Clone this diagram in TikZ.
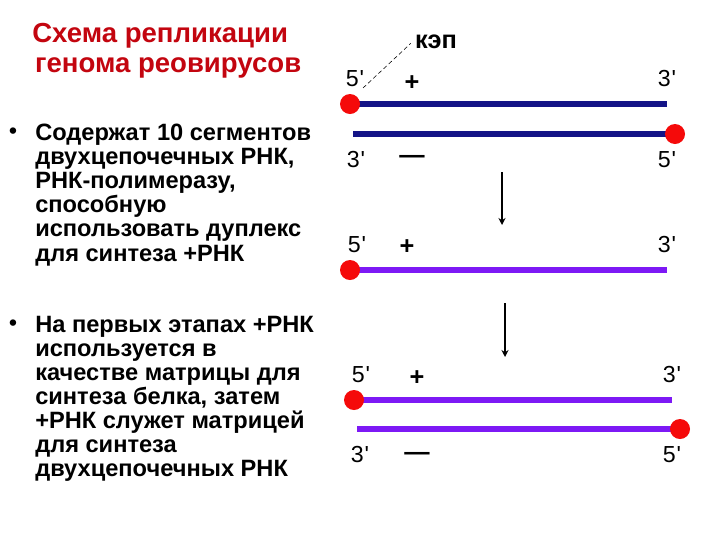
\documentclass[tikz,border=0pt]{standalone}
\usepackage{fontspec}
\setmainfont{Liberation Sans}
\usetikzlibrary{arrows.meta}
\definecolor{titlered}{RGB}{195,5,15}
\definecolor{navy}{RGB}{20,20,135}
\definecolor{violet}{RGB}{125,25,245}
\definecolor{capred}{RGB}{245,10,10}
\newcommand{\pr}{\kern0.5pt\textquotesingle}
\tikzset{
  capdot/.style={circle,fill=capred,inner sep=0pt,minimum size=0.5cm},
  prime/.style={inner sep=0pt,font=\fontsize{16.5}{16.5}\selectfont},
  sign/.style={inner sep=0pt,font=\bfseries\fontsize{18}{18}\selectfont},
  dsrna/.style={draw=navy,line width=4.4pt},
  ssrna/.style={draw=violet,line width=4.8pt},
  stepline/.style={draw,line width=1.1pt,-{Stealth[length=5pt,width=5pt]}},
  bodytext/.style={inner sep=0pt,anchor=north west,align=left,
    font=\bfseries\fontsize{16.8}{17.1}\selectfont},
}
\begin{document}
\begin{tikzpicture}[x=0.025cm,y=-0.025cm]
\useasboundingbox[fill=white] (0,0) rectangle (720,540);
% left column
\node[inner sep=0pt,anchor=north west,align=left,text=titlered,font=\bfseries\fontsize{19.6}{21.3}\selectfont] (title) at (32,23) {Схема репликации\\\hspace{2pt}генома реовирусов};
\node[inner sep=0pt,font=\bfseries\fontsize{16}{16}\selectfont] (b1) at (13,133) {•};
\node[bodytext] (t1) at (35,124) {Содержат 10 сегментов\\двухцепочечных РНК,\\РНК-полимеразу,\\способную\\использовать дуплекс\\для синтеза +РНК};
\node[inner sep=0pt,font=\bfseries\fontsize{16}{16}\selectfont] (b2) at (13,325) {•};
\node[bodytext] (t2) at (35,316) {На первых этапах +РНК\\используется в\\качестве матрицы для\\синтеза белка, затем\\+РНК служет матрицей\\для синтеза\\двухцепочечных РНК};
% duplex
\coordinate (p1) at (350,104);
\coordinate (q1) at (667,104);
\coordinate (p2) at (353,134);
\coordinate (q2) at (675,134);
\path[dsrna] (p1) -- (q1);
\path[dsrna] (p2) -- (q2);
\node[capdot] (d1) at (p1) {};
\node[capdot] (d2) at (q2) {};
\node[prime] (l1) at (355,79) {5\pr};
\node[sign] (s1) at (412,83) {+};
\node[prime] (r1) at (667,79) {3\pr};
\node[inner sep=0pt,font=\bfseries\fontsize{18}{18}\selectfont] (kep) at (436,42) {кэп};
\path[draw,densely dashed,thin] (363,88) -- ([xshift=-3pt,yshift=-1pt]kep.west);
\node[prime] (l2) at (356,160) {3\pr};
\node[sign] (s2) at (412,159) {—};
\node[prime] (r2) at (667,160) {5\pr};
% first step
\coordinate (a1) at (502,172);
\coordinate (a2) at (502,225);
\path[stepline] (a1) -- (a2);
% plus strand
\coordinate (p3) at (350,270);
\coordinate (q3) at (667,270);
\path[ssrna] (p3) -- (q3);
\node[capdot] (d3) at (p3) {};
\node[prime] (l3) at (357,245) {5\pr};
\node[sign] (s3) at (407,247) {+};
\node[prime] (r3) at (667,245) {3\pr};
% second step
\coordinate (a3) at (505,303);
\coordinate (a4) at (505,357);
\path[stepline] (a3) -- (a4);
% new duplex
\coordinate (p4) at (354,400);
\coordinate (q4) at (672,400);
\coordinate (p5) at (357,429);
\coordinate (q5) at (680,429);
\path[ssrna] (p4) -- (q4);
\path[ssrna] (p5) -- (q5);
\node[capdot] (d4) at (p4) {};
\node[capdot] (d5) at (q5) {};
\node[prime] (l4) at (361,375) {5\pr};
\node[sign] (s4) at (417,378) {+};
\node[prime] (r4) at (672,375) {3\pr};
\node[prime] (l5) at (360,455) {3\pr};
\node[sign] (s5) at (417,456) {—};
\node[prime] (r5) at (672,455) {5\pr};
\end{tikzpicture}
\end{document}
